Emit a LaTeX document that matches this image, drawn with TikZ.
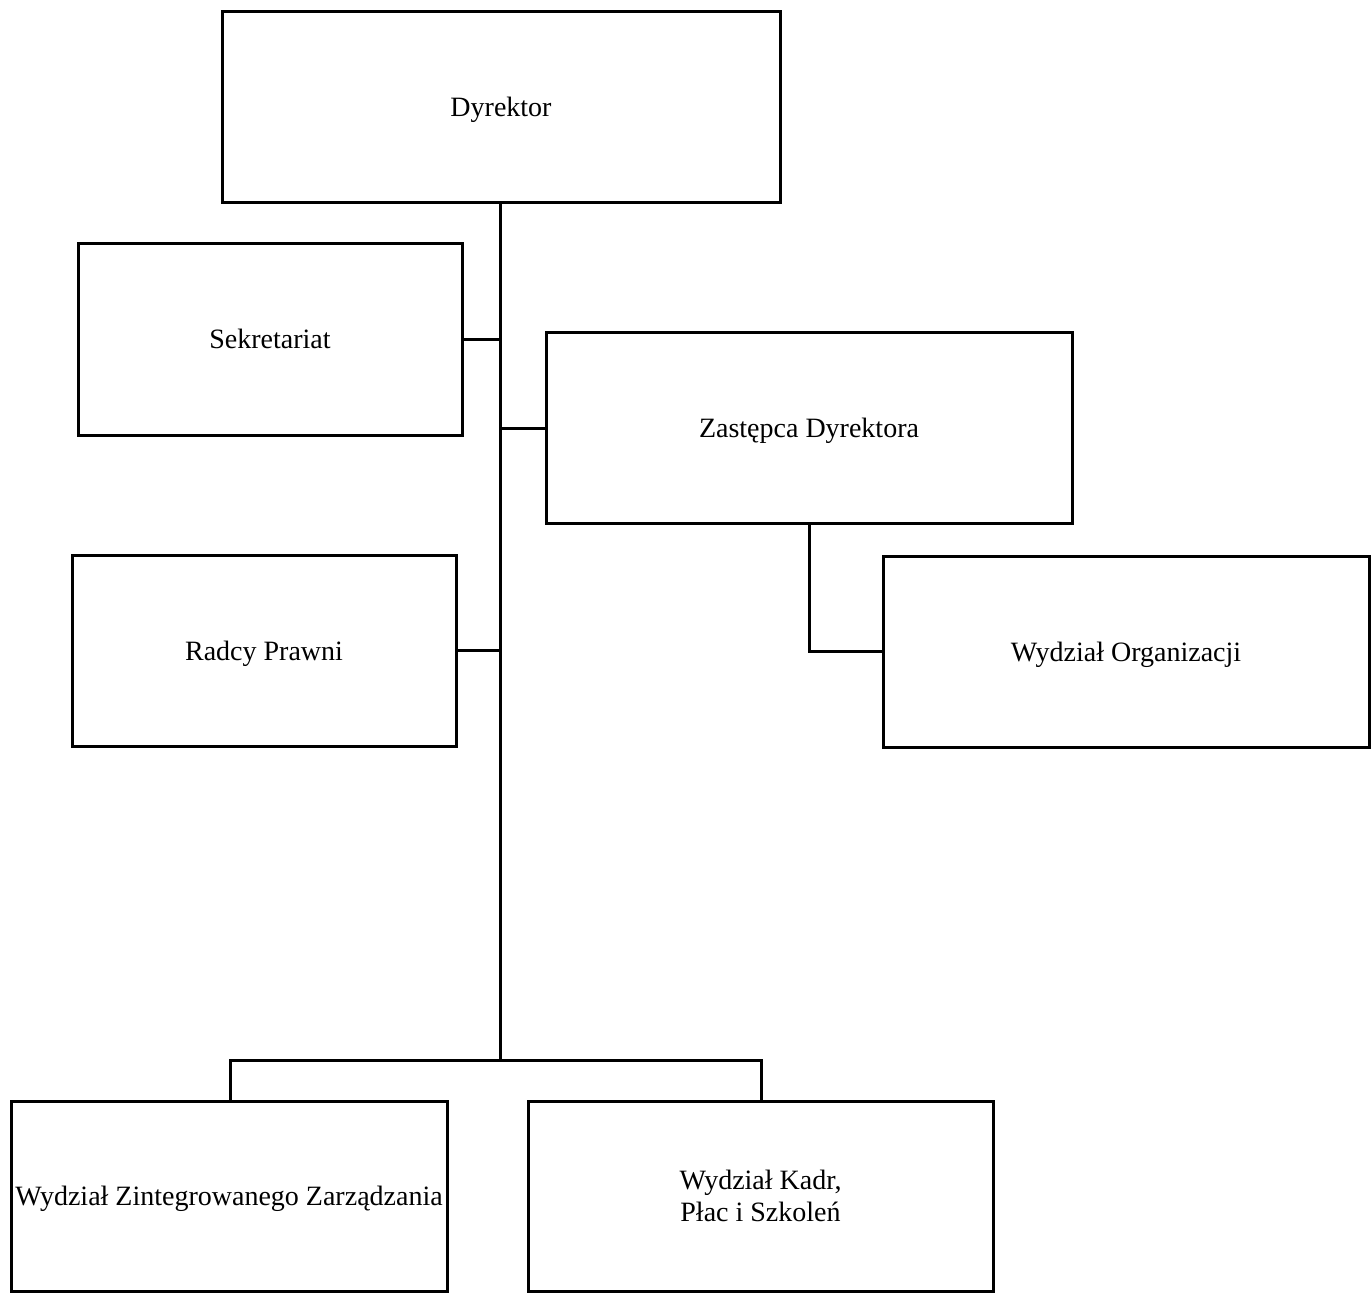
\documentclass[tikz,border=0pt]{standalone}
\usepackage{fontspec}
\setmainfont{Liberation Serif}
\begin{document}
\begin{tikzpicture}[x=1pt,y=-1pt,
  box/.style={draw,line width=3pt,inner sep=0pt,align=center,font=\fontsize{28}{33}\selectfont},
  conn/.style={line width=3pt}]
\useasboundingbox (0,0) rectangle (1371,1293);
\newcommand\boxat[6]{\node[box,minimum width=#4-#2,minimum height=#5-#3] (#1) at ({(#2+#4)/2},{(#3+#5)/2}) {\raisebox{-3pt}[\height][\depth]{\begin{tabular}{@{}c@{}}#6\end{tabular}}};}
\boxat{dyr}{222}{11}{780}{202}{Dyrektor}
\boxat{sek}{78}{243}{462}{435}{Sekretariat}
\boxat{zas}{546}{332}{1072}{523}{Zastępca Dyrektora}
\boxat{rad}{72}{555}{456}{746}{Radcy Prawni}
\boxat{org}{883}{556}{1369}{747}{Wydział Organizacji}
\boxat{wzz}{11}{1101}{447}{1291}{Wydział Zintegrowanego Zarządzania}
\boxat{kad}{528}{1101}{993}{1291}{Wydział Kadr,\\[-1pt]Płac i Szkoleń}
\coordinate (tb) at (500,1060);
\draw[conn] (dyr.south -| tb) -- (tb);
\draw[conn] (sek.east |- 0,339) -- (500,339);
\draw[conn] (zas.west |- 0,428) -- (500,428);
\draw[conn] (rad.east |- 0,650) -- (500,650);
\draw[conn] (809,523) |- (org.west);
\draw[conn] (wzz.north -| 230,0) |- (tb) -| (kad.north -| 761,0);
\end{tikzpicture}
\end{document}
